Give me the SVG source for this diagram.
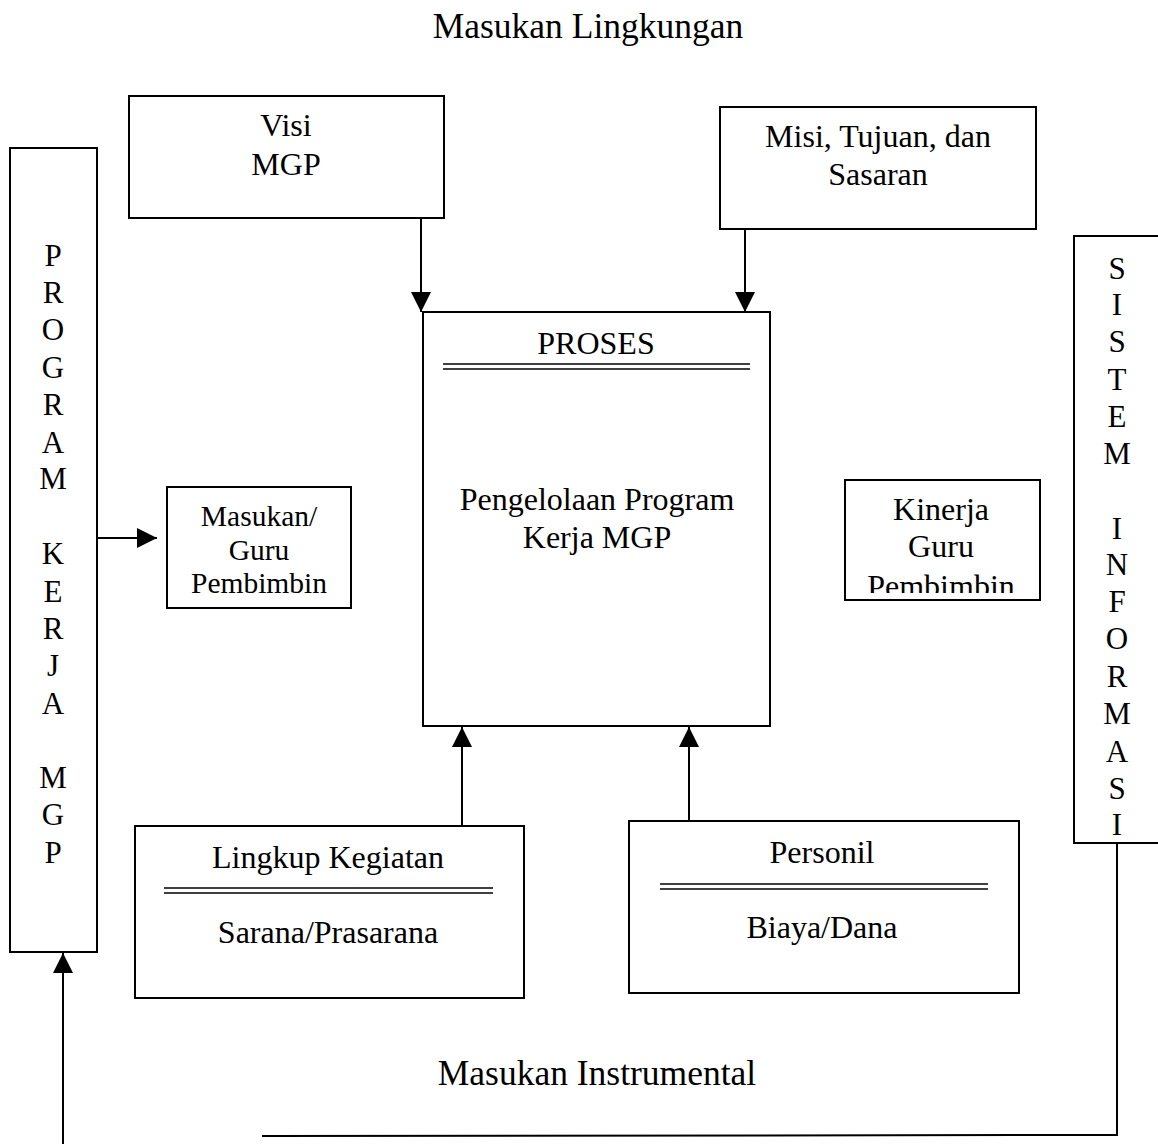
<svg xmlns="http://www.w3.org/2000/svg" width="1158" height="1144" viewBox="0 0 1158 1144">
<style>
.box{fill:#fff;stroke:#000;stroke-width:2}
.ln{fill:none;stroke:#000;stroke-width:2}
.dl{stroke:#000;stroke-width:1.5}
text{font-family:"Liberation Serif","Times New Roman",serif;font-size:32px;fill:#000;text-anchor:middle}
.t{font-size:35.5px}
.s{font-size:29.5px}
.v{font-size:31px}
</style>
<defs>
<marker id="ahb" viewBox="0 0 20 20" markerWidth="20" markerHeight="20" refX="20" refY="10" orient="auto" markerUnits="userSpaceOnUse">
<path d="M0,0 L20,10 L0,20 z" fill="#000"/>
</marker>
<clipPath id="kc"><rect x="846" y="481" width="193" height="112"/></clipPath>
</defs>

<text class="t" x="588" y="38">Masukan Lingkungan</text>
<text class="t" x="597" y="1085">Masukan Instrumental</text>

<g id="connectors">
<line class="ln" x1="421" y1="218" x2="421" y2="312" marker-end="url(#ahb)"/>
<line class="ln" x1="745" y1="213" x2="745" y2="312" marker-end="url(#ahb)"/>
<line class="ln" x1="462" y1="826" x2="462" y2="727" marker-end="url(#ahb)"/>
<line class="ln" x1="689" y1="821" x2="689" y2="727" marker-end="url(#ahb)"/>
<line class="ln" x1="97" y1="538" x2="157" y2="538" marker-end="url(#ahb)"/>
<line class="ln" x1="63" y1="1144" x2="63" y2="953" marker-end="url(#ahb)"/>
<polyline class="ln" points="1117,843 1117,1135 262,1136"/>
</g>

<g id="program-kerja">
<rect class="box" x="10" y="148" width="87" height="804"/>
<text class="v" x="53" y="266">P</text><text class="v" x="53" y="303">R</text><text class="v" x="53" y="340">O</text><text class="v" x="53" y="378">G</text><text class="v" x="53" y="415">R</text><text class="v" x="53" y="453">A</text><text class="v" x="53" y="489">M</text>
<text class="v" x="53" y="564">K</text><text class="v" x="53" y="602">E</text><text class="v" x="53" y="639">R</text><text class="v" x="53" y="676">J</text><text class="v" x="53" y="714">A</text>
<text class="v" x="53" y="788">M</text><text class="v" x="53" y="825">G</text><text class="v" x="53" y="863">P</text>
</g>

<g id="visi">
<rect class="box" x="129" y="96" width="315" height="122"/>
<text x="286" y="136">Visi</text>
<text x="286" y="175">MGP</text>
</g>

<g id="misi">
<rect class="box" x="720" y="107" width="316" height="122"/>
<text x="878" y="147">Misi, Tujuan, dan</text>
<text x="878" y="185">Sasaran</text>
</g>

<g id="proses">
<rect class="box" x="423" y="312" width="347" height="414"/>
<text x="596" y="354">PROSES</text>
<line class="dl" x1="443" y1="364" x2="750" y2="364"/>
<line class="dl" x1="443" y1="369" x2="750" y2="369"/>
<text x="597" y="510">Pengelolaan Program</text>
<text x="597" y="548">Kerja MGP</text>
</g>

<g id="masukan-guru">
<rect class="box" x="167" y="487" width="184" height="121"/>
<text class="s" x="259" y="526">Masukan/</text>
<text class="s" x="259" y="560">Guru</text>
<text class="s" x="259" y="593">Pembimbin</text>
</g>

<g id="kinerja">
<rect class="box" x="845" y="480" width="195" height="120"/>
<text x="941" y="520">Kinerja</text>
<text x="941" y="557">Guru</text>
<text x="941" y="597" clip-path="url(#kc)">Pembimbin</text>
</g>

<g id="sistem-informasi">
<rect class="box" x="1074" y="236" width="100" height="607"/>
<text class="v" x="1117" y="279">S</text><text class="v" x="1117" y="315">I</text><text class="v" x="1117" y="352">S</text><text class="v" x="1117" y="390">T</text><text class="v" x="1117" y="427">E</text><text class="v" x="1117" y="464">M</text>
<text class="v" x="1117" y="539">I</text><text class="v" x="1117" y="575">N</text><text class="v" x="1117" y="612">F</text><text class="v" x="1117" y="649">O</text><text class="v" x="1117" y="687">R</text><text class="v" x="1117" y="724">M</text><text class="v" x="1117" y="762">A</text><text class="v" x="1117" y="799">S</text><text class="v" x="1117" y="835">I</text>
</g>

<g id="lingkup">
<rect class="box" x="135" y="826" width="389" height="172"/>
<text x="328" y="868">Lingkup Kegiatan</text>
<line class="dl" x1="164" y1="888" x2="493" y2="888"/>
<line class="dl" x1="164" y1="893" x2="493" y2="893"/>
<text x="328" y="943">Sarana/Prasarana</text>
</g>

<g id="personil">
<rect class="box" x="629" y="821" width="390" height="172"/>
<text x="822" y="863">Personil</text>
<line class="dl" x1="660" y1="884" x2="988" y2="884"/>
<line class="dl" x1="660" y1="889" x2="988" y2="889"/>
<text x="822" y="938">Biaya/Dana</text>
</g>
</svg>
